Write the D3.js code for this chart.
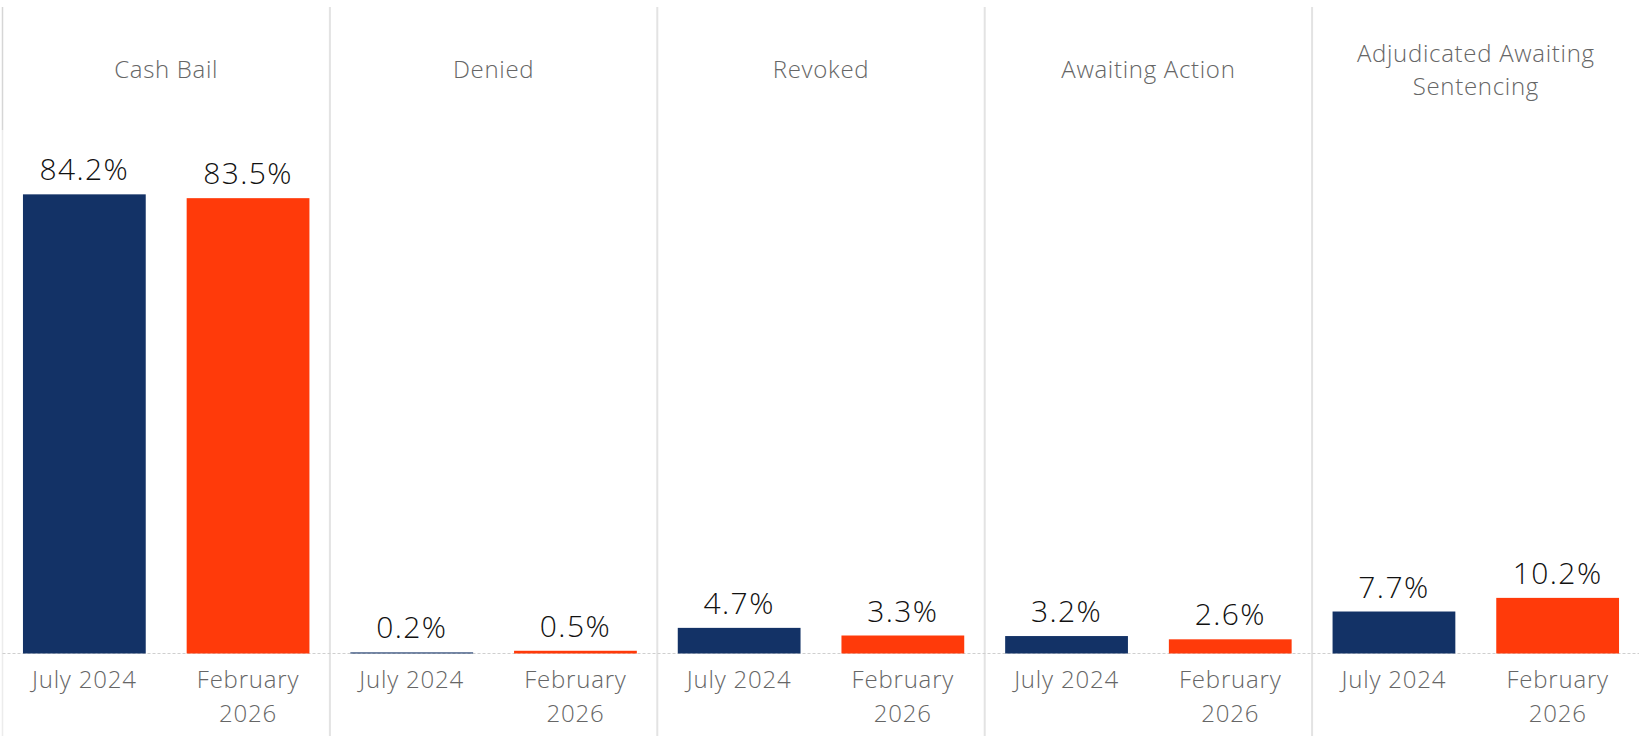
<!DOCTYPE html>
<html>
<head>
<meta charset="utf-8">
<title>Bail status</title>
<style>
  html, body { margin: 0; padding: 0; background: #fff; }
  svg { display: block; font-family: "Open Sans", sans-serif; font-weight: 300; }
</style>
</head>
<body>
<svg width="1639" height="736"></svg>
<script src="https://d3js.org/d3.v7.min.js"></script>
<script>
// data
var statuses = ["Cash Bail", "Denied", "Revoked", "Awaiting Action", "Adjudicated Awaiting Sentencing"];
var periods = ["July 2024", "February 2026"];
var july2024 = [84.2, 0.2, 4.7, 3.2, 7.7];
var feb2026 = [83.5, 0.5, 3.3, 2.6, 10.2];
var colors = ["#133266", "#ff3a0a"];

var rows = statuses.map(function(s, i) {
  return { status: s, values: [
    { period: periods[0], value: july2024[i] },
    { period: periods[1], value: feb2026[i] }
  ]};
});

var svg = d3.select("svg"),
    width = +svg.attr("width"),
    left = 2.5,
    paneTop = 130,
    baseline = 653.5;

var x0 = d3.scaleBand().domain(statuses).range([left, width + 0.5]);
var x1 = d3.scaleBand().domain(periods).range([0, x0.bandwidth()])
  .paddingInner(0.25).paddingOuter(0.125);
var y = d3.scaleLinear().domain([0, 96]).range([baseline, paneTop]);
var color = d3.scaleOrdinal().domain(periods).range(colors);

// panel dividers
svg.append("line")
  .attr("x1", left).attr("x2", left).attr("y1", 7).attr("y2", paneTop)
  .attr("stroke", "#d6d6d6").attr("stroke-width", 1.5);
svg.append("line")
  .attr("x1", left).attr("x2", left).attr("y1", paneTop).attr("y2", 736)
  .attr("stroke", "#ececec").attr("stroke-width", 1.5);
svg.selectAll(".divider")
  .data(statuses.slice(1))
  .enter().append("line")
  .attr("class", "divider")
  .attr("x1", function(d) { return x0(d); })
  .attr("x2", function(d) { return x0(d); })
  .attr("y1", 7).attr("y2", 736)
  .attr("stroke", "#e3e3e3").attr("stroke-width", 2);

// zero line
svg.append("line")
  .attr("x1", left).attr("x2", width)
  .attr("y1", y(0)).attr("y2", y(0))
  .attr("stroke", "#cfcfcf").attr("stroke-width", 1)
  .attr("stroke-dasharray", "3,2");

function wrap(text, maxWidth, lineHeight) {
  text.each(function() {
    var t = d3.select(this),
        words = t.text().split(/\s+/),
        xPos = t.attr("x"),
        line = [], lines = [];
    t.text(null);
    var probe = t.append("tspan");
    words.forEach(function(w) {
      line.push(w);
      probe.text(line.join(" "));
      if (probe.node().getComputedTextLength() > maxWidth && line.length > 1) {
        line.pop();
        lines.push(line.join(" "));
        line = [w];
      }
    });
    lines.push(line.join(" "));
    probe.remove();
    var shift = t.attr("data-center") ? -(lines.length - 1) * lineHeight / 2 : 0;
    lines.forEach(function(l, i) {
      t.append("tspan").attr("x", xPos)
        .attr("dy", i === 0 ? shift : lineHeight)
        .text(l);
    });
  });
}

// headers
svg.selectAll(".header")
  .data(statuses)
  .enter().append("text")
  .attr("class", "header")
  .attr("x", function(d) { return x0(d) + x0.bandwidth() / 2; })
  .attr("y", 78)
  .attr("data-center", 1)
  .attr("text-anchor", "middle")
  .attr("fill", "#666")
  .style("font-size", "24px")
  .style("letter-spacing", "0.7px")
  .text(function(d) { return d; })
  .call(wrap, 295, 33);

var panel = svg.selectAll(".panel")
  .data(rows)
  .enter().append("g")
  .attr("class", "panel")
  .attr("transform", function(d) { return "translate(" + x0(d.status) + ",0)"; });

panel.selectAll("rect")
  .data(function(d) { return d.values; })
  .enter().append("rect")
  .attr("x", function(d) { return x1(d.period); })
  .attr("y", function(d) { return y(d.value); })
  .attr("width", x1.bandwidth())
  .attr("height", function(d) { return y(0) - y(d.value); })
  .attr("fill", function(d) { return color(d.period); });

panel.selectAll(".value")
  .data(function(d) { return d.values; })
  .enter().append("text")
  .attr("class", "value")
  .attr("x", function(d) { return x1(d.period) + x1.bandwidth() / 2; })
  .attr("y", function(d) { return y(d.value) - 14; })
  .attr("text-anchor", "middle")
  .attr("fill", "#111")
  .style("font-size", "30px")
  .style("letter-spacing", "1.4px")
  .text(function(d) { return d.value.toFixed(1) + "%"; });

panel.selectAll(".cat")
  .data(function(d) { return d.values; })
  .enter().append("text")
  .attr("class", "cat")
  .attr("x", function(d) { return x1(d.period) + x1.bandwidth() / 2; })
  .attr("y", 688)
  .attr("text-anchor", "middle")
  .attr("fill", "#666")
  .style("font-size", "24px")
  .style("letter-spacing", "0.8px")
  .text(function(d) { return d.period; })
  .call(wrap, 145, 33.5);
</script>
</body>
</html>
